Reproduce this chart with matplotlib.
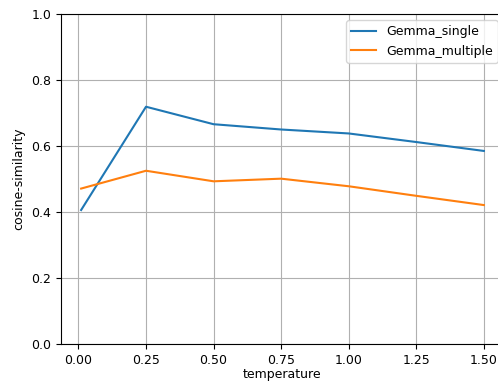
import matplotlib
matplotlib.use("Agg")
import matplotlib.pyplot as plt

temperature = [0.01, 0.25, 0.5, 0.75, 1.0, 1.25, 1.5]
gemma_single = [0.406, 0.719, 0.666, 0.650, 0.638, 0.612, 0.585]
gemma_multiple = [0.471, 0.525, 0.493, 0.501, 0.478, 0.449, 0.421]

plt.rcParams['font.size'] = 9

fig = plt.figure(figsize=(4.98, 3.81), dpi=100)
W, H = 498, 381
ax = fig.add_axes([61 / W, (H - 344) / H, (504 - 61) / W, (344 - 14) / H])
ax.plot(temperature, gemma_single, label="Gemma_single", color="#1f77b4")
ax.plot(temperature, gemma_multiple, label="Gemma_multiple", color="#ff7f0e")
ax.set_ylim(0, 1.0)
ax.set_xlim(-0.0645, 1.5745)
ax.set_xticks([0, 0.25, 0.5, 0.75, 1.0, 1.25, 1.5])
ax.grid(True, color="#b0b0b0", linewidth=0.8)
ax.set_xlabel("temperature", labelpad=1)
ax.set_ylabel("cosine-similarity")
ax.legend(loc="upper right")
ax.spines["right"].set_visible(False)

fig.savefig("out.png", dpi=100)
